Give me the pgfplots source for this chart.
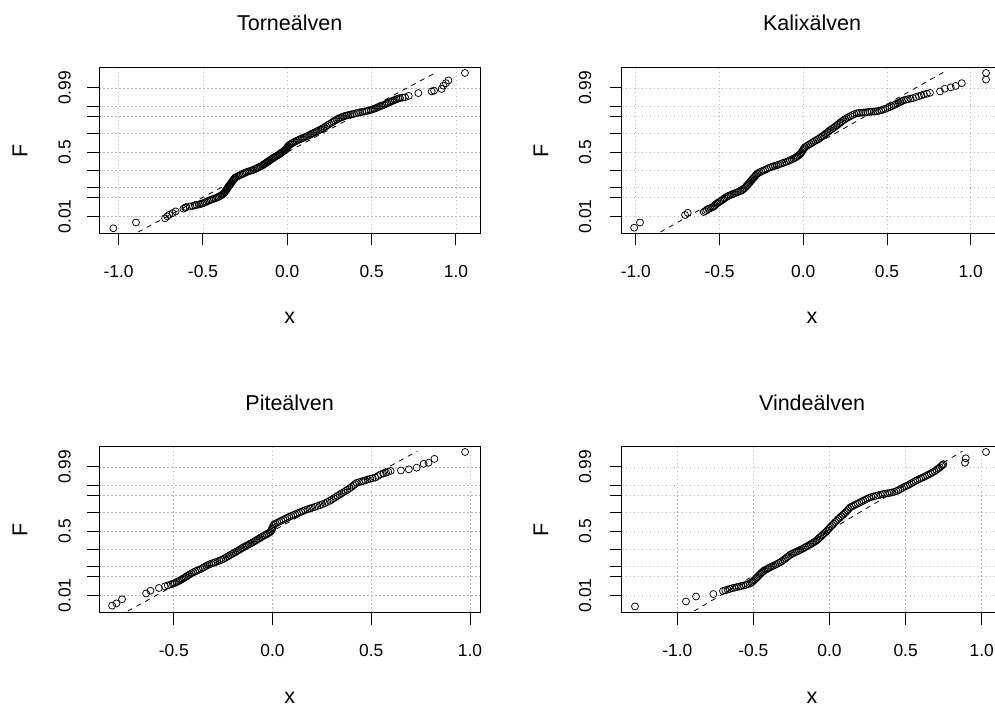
\documentclass[border=0pt]{standalone}
\usepackage{fontspec}
\setmainfont{Liberation Sans}
\usepackage{pgfplots}
\pgfplotsset{compat=1.18}

% normal probability paper: y is the standard normal quantile of F
\pgfplotsset{
  probplot/.style={
    scale only axis,
    width=380.7pt, height=165.5pt,
    anchor=south west,
    ymin=-2.95, ymax=3.05,
    ytick={-2.3263,-1.6449,-1.2816,-0.6745,0,0.6745,1.2816,1.6449,2.3263},
    xticklabels={}, yticklabels={},
    xtick pos=left, ytick pos=left,
    tick align=outside,
    major tick length=12pt,
    tick style={black, line width=1pt},
    axis line style={line width=1pt},
    grid=major,
    major grid style={gray!55, line width=0.75pt, dash pattern=on 1.5pt off 2.5pt},
    clip mode=individual,
  },
  qq/.style={only marks, mark=o, mark size=3.5pt,
    mark options={line width=0.75pt, black}, black},
  fitline/.style={black, line width=0.8pt, dash pattern=on 5pt off 5pt, no marks},
}
\tikzset{
  tl/.style={font=\fontsize{17.4}{20}\selectfont, anchor=base, inner sep=0pt},
  lab/.style={font=\fontsize{21.5}{24}\selectfont, anchor=base, inner sep=0pt},
}

\begin{document}
\begin{tikzpicture}

% ---------------- Torneälven ----------------
\begin{axis}[probplot, at={(99.3pt,473.5pt)},
  xmin=-1.1144, xmax=1.1423, xtick={-1,-0.5,0,0.5,1}]
\addplot[fitline] coordinates {(-0.885,-2.9) (0.885,2.9)};
\addplot[qq] table {
x y
-1.031 -2.76
-0.897 -2.55
-0.725 -2.40
-0.712 -2.33
-0.700 -2.27
-0.680 -2.21
-0.662 -2.15
-0.616 -2.05
-0.600 -1.99
-0.560 -1.95
-0.537 -1.91
-0.515 -1.88
-0.498 -1.85
-0.480 -1.80
-0.462 -1.75
-0.445 -1.71
-0.425 -1.67
-0.408 -1.62
-0.392 -1.57
-0.380 -1.52
-0.372 -1.46
-0.365 -1.40
-0.358 -1.34
-0.352 -1.28
-0.345 -1.22
-0.338 -1.16
-0.331 -1.10
-0.324 -1.04
-0.316 -0.98
-0.308 -0.92
-0.292 -0.87
-0.275 -0.82
-0.258 -0.77
-0.240 -0.72
-0.220 -0.68
-0.200 -0.64
-0.182 -0.59
-0.166 -0.54
-0.150 -0.49
-0.138 -0.44
-0.126 -0.39
-0.114 -0.34
-0.102 -0.29
-0.090 -0.24
-0.078 -0.19
-0.064 -0.14
-0.050 -0.09
-0.040 -0.04
-0.028 0.01
-0.016 0.06
-0.008 0.11
0.000 0.17
0.006 0.23
0.020 0.29
0.036 0.35
0.055 0.41
0.075 0.47
0.095 0.52
0.115 0.57
0.135 0.63
0.154 0.69
0.174 0.75
0.194 0.81
0.212 0.87
0.230 0.94
0.250 1.02
0.273 1.11
0.292 1.18
0.312 1.24
0.332 1.29
0.352 1.33
0.375 1.36
0.395 1.39
0.420 1.43
0.445 1.46
0.470 1.49
0.495 1.53
0.515 1.57
0.535 1.62
0.555 1.67
0.575 1.72
0.592 1.77
0.610 1.82
0.628 1.87
0.648 1.92
0.668 1.96
0.698 1.99
0.720 2.04
0.777 2.14
0.856 2.20
0.870 2.23
0.915 2.29
0.925 2.41
0.940 2.50
0.955 2.60
1.053 2.87
-0.605 -2.02
-0.578 -1.97
-0.548 -1.93
-0.524 -1.90
-0.505 -1.865
-0.489 -1.825
-0.471 -1.775
-0.453 -1.73
-0.435 -1.69
-0.416 -1.645
-0.400 -1.595
-0.386 -1.545
-0.376 -1.49
-0.368 -1.43
-0.361 -1.37
-0.355 -1.31
-0.348 -1.25
-0.341 -1.19
-0.334 -1.13
-0.327 -1.07
-0.320 -1.01
-0.312 -0.95
-0.300 -0.895
-0.283 -0.845
-0.266 -0.795
-0.249 -0.745
-0.230 -0.70
-0.210 -0.66
-0.191 -0.615
-0.174 -0.565
-0.158 -0.515
-0.144 -0.465
-0.132 -0.415
-0.120 -0.365
-0.108 -0.315
-0.096 -0.265
-0.084 -0.215
-0.071 -0.165
-0.057 -0.115
-0.045 -0.065
-0.034 -0.015
-0.022 0.035
-0.012 0.085
-0.004 0.14
0.003 0.20
0.013 0.26
0.028 0.32
0.045 0.38
0.065 0.44
0.085 0.495
0.105 0.545
0.125 0.60
0.144 0.66
0.164 0.72
0.184 0.78
0.203 0.84
0.221 0.905
0.240 0.98
0.262 1.065
0.282 1.145
0.302 1.21
0.322 1.265
0.342 1.31
0.363 1.345
0.385 1.375
0.408 1.41
0.432 1.445
0.458 1.475
0.482 1.51
0.505 1.55
0.525 1.595
0.545 1.645
0.565 1.695
0.584 1.745
0.601 1.795
0.619 1.845
0.638 1.895
0.658 1.94
0.683 1.975
};
\end{axis}

% ---------------- Kalixälven ----------------
\begin{axis}[probplot, at={(621.7pt,473.5pt)},
  xmin=-1.0842, xmax=1.1887, xtick={-1,-0.5,0,0.5,1}]
\addplot[fitline] coordinates {(-0.854,-2.9) (0.838,2.9)};
\addplot[qq] table {
x y
-1.010 -2.74
-0.975 -2.55
-0.706 -2.28
-0.690 -2.20
-0.595 -2.17
-0.575 -2.10
-0.555 -2.03
-0.537 -1.98
-0.525 -1.91
-0.512 -1.84
-0.495 -1.78
-0.478 -1.71
-0.462 -1.64
-0.445 -1.58
-0.425 -1.53
-0.405 -1.48
-0.385 -1.43
-0.365 -1.38
-0.350 -1.30
-0.338 -1.22
-0.326 -1.14
-0.315 -1.06
-0.304 -0.98
-0.292 -0.90
-0.282 -0.82
-0.270 -0.76
-0.250 -0.70
-0.228 -0.64
-0.205 -0.57
-0.182 -0.52
-0.160 -0.48
-0.138 -0.43
-0.115 -0.38
-0.092 -0.33
-0.070 -0.27
-0.050 -0.21
-0.035 -0.15
-0.020 -0.08
-0.010 0.00
0.000 0.10
0.010 0.18
0.030 0.26
0.050 0.33
0.070 0.41
0.090 0.48
0.110 0.56
0.128 0.64
0.145 0.72
0.162 0.80
0.180 0.88
0.198 0.96
0.215 1.04
0.232 1.12
0.250 1.20
0.270 1.27
0.292 1.34
0.319 1.41
0.345 1.43
0.370 1.44
0.395 1.46
0.420 1.47
0.440 1.48
0.465 1.52
0.490 1.57
0.515 1.63
0.540 1.70
0.560 1.76
0.580 1.82
0.600 1.88
0.625 1.92
0.655 1.96
0.690 2.03
0.720 2.09
0.756 2.15
0.816 2.20
0.845 2.30
0.880 2.35
0.910 2.40
0.946 2.50
1.091 2.63
1.091 2.87
-0.585 -2.135
-0.565 -2.065
-0.546 -2.005
-0.531 -1.945
-0.518 -1.875
-0.503 -1.81
-0.486 -1.745
-0.470 -1.675
-0.453 -1.61
-0.435 -1.555
-0.415 -1.505
-0.395 -1.455
-0.375 -1.405
-0.357 -1.34
-0.344 -1.26
-0.332 -1.18
-0.320 -1.10
-0.309 -1.02
-0.298 -0.94
-0.287 -0.86
-0.276 -0.79
-0.260 -0.73
-0.239 -0.67
-0.216 -0.605
-0.193 -0.545
-0.171 -0.50
-0.149 -0.455
-0.126 -0.405
-0.103 -0.355
-0.081 -0.30
-0.060 -0.24
-0.042 -0.18
-0.027 -0.115
-0.015 -0.04
-0.005 0.05
0.005 0.14
0.020 0.22
0.040 0.295
0.060 0.37
0.080 0.445
0.100 0.52
0.119 0.60
0.136 0.68
0.153 0.76
0.171 0.84
0.189 0.92
0.206 1.00
0.223 1.08
0.241 1.16
0.260 1.235
0.281 1.305
0.305 1.375
0.332 1.42
0.357 1.435
0.382 1.45
0.407 1.465
0.430 1.475
0.452 1.50
0.477 1.545
0.502 1.60
0.527 1.665
0.550 1.73
0.570 1.79
0.590 1.85
0.612 1.90
0.640 1.94
0.672 1.995
0.705 2.06
0.738 2.12
};
\end{axis}

% ---------------- Piteälven ----------------
\begin{axis}[probplot, at={(99.3pt,94.5pt)},
  xmin=-0.877, xmax=1.0506, xtick={-0.5,0,0.5,1}]
\addplot[fitline] coordinates {(-0.733,-2.9) (0.733,2.9)};
\addplot[qq] table {
x y
-0.812 -2.70
-0.790 -2.62
-0.762 -2.47
-0.640 -2.26
-0.618 -2.16
-0.575 -2.06
-0.545 -2.00
-0.515 -1.93
-0.495 -1.88
-0.478 -1.82
-0.462 -1.76
-0.448 -1.70
-0.433 -1.63
-0.418 -1.56
-0.400 -1.49
-0.382 -1.43
-0.362 -1.37
-0.345 -1.30
-0.328 -1.23
-0.310 -1.18
-0.290 -1.13
-0.268 -1.07
-0.249 -1.01
-0.232 -0.94
-0.215 -0.87
-0.198 -0.80
-0.180 -0.73
-0.164 -0.66
-0.148 -0.59
-0.130 -0.52
-0.114 -0.46
-0.098 -0.40
-0.082 -0.33
-0.066 -0.26
-0.050 -0.19
-0.032 -0.12
-0.015 -0.05
-0.004 0.04
0.000 0.14
0.008 0.24
0.025 0.31
0.045 0.38
0.065 0.45
0.085 0.52
0.105 0.58
0.125 0.64
0.145 0.70
0.165 0.76
0.190 0.82
0.215 0.88
0.240 0.94
0.265 1.01
0.290 1.10
0.310 1.19
0.330 1.28
0.350 1.37
0.370 1.46
0.390 1.55
0.410 1.66
0.426 1.75
0.450 1.80
0.470 1.84
0.495 1.90
0.520 1.94
0.548 2.06
0.575 2.12
0.598 2.18
0.650 2.20
0.690 2.24
0.730 2.30
0.765 2.44
0.790 2.48
0.820 2.62
0.975 2.87
-0.530 -1.965
-0.505 -1.905
-0.486 -1.85
-0.470 -1.79
-0.455 -1.73
-0.440 -1.665
-0.425 -1.595
-0.409 -1.525
-0.391 -1.46
-0.372 -1.40
-0.353 -1.335
-0.336 -1.265
-0.319 -1.205
-0.300 -1.155
-0.279 -1.10
-0.258 -1.04
-0.240 -0.975
-0.223 -0.905
-0.206 -0.835
-0.189 -0.765
-0.172 -0.695
-0.156 -0.625
-0.139 -0.555
-0.122 -0.49
-0.106 -0.43
-0.090 -0.365
-0.074 -0.295
-0.058 -0.225
-0.041 -0.155
-0.023 -0.085
-0.009 -0.005
-0.002 0.09
0.004 0.19
0.016 0.275
0.035 0.345
0.055 0.415
0.075 0.485
0.095 0.55
0.115 0.61
0.135 0.67
0.155 0.73
0.177 0.79
0.202 0.85
0.227 0.91
0.252 0.975
0.277 1.055
0.300 1.145
0.320 1.235
0.340 1.325
0.360 1.415
0.380 1.505
0.400 1.605
0.418 1.705
0.438 1.775
0.460 1.82
0.482 1.87
0.507 1.92
0.534 2.00
0.561 2.09
0.586 2.15
};
\end{axis}

% ---------------- Vindeälven ----------------
\begin{axis}[probplot, at={(621.7pt,94.5pt)},
  xmin=-1.3653, xmax=1.136, xtick={-1,-0.5,0,0.5,1}]
\addplot[fitline] coordinates {(-0.890,-2.9) (0.874,2.9)};
\addplot[qq] table {
x y
-1.278 -2.73
-0.943 -2.55
-0.877 -2.37
-0.763 -2.28
-0.700 -2.17
-0.670 -2.12
-0.640 -2.07
-0.610 -2.03
-0.580 -1.99
-0.550 -1.95
-0.522 -1.90
-0.505 -1.83
-0.490 -1.75
-0.475 -1.67
-0.460 -1.58
-0.445 -1.50
-0.430 -1.43
-0.410 -1.37
-0.390 -1.31
-0.368 -1.25
-0.345 -1.19
-0.322 -1.12
-0.300 -1.04
-0.280 -0.95
-0.260 -0.86
-0.238 -0.80
-0.215 -0.74
-0.192 -0.68
-0.170 -0.62
-0.148 -0.55
-0.126 -0.48
-0.105 -0.41
-0.085 -0.34
-0.068 -0.25
-0.050 -0.16
-0.032 -0.07
-0.015 0.02
0.000 0.12
0.018 0.22
0.038 0.33
0.058 0.44
0.078 0.54
0.098 0.64
0.118 0.75
0.135 0.86
0.160 0.93
0.185 1.00
0.210 1.07
0.235 1.14
0.260 1.21
0.290 1.26
0.320 1.30
0.350 1.34
0.380 1.37
0.410 1.40
0.440 1.45
0.465 1.52
0.490 1.60
0.515 1.66
0.540 1.74
0.565 1.82
0.590 1.89
0.615 1.95
0.640 2.02
0.665 2.09
0.690 2.17
0.715 2.27
0.735 2.36
0.748 2.43
0.890 2.48
0.895 2.64
1.028 2.87
-0.685 -2.145
-0.655 -2.095
-0.625 -2.05
-0.595 -2.01
-0.565 -1.97
-0.536 -1.925
-0.513 -1.865
-0.497 -1.79
-0.482 -1.71
-0.467 -1.625
-0.452 -1.54
-0.437 -1.465
-0.420 -1.40
-0.400 -1.34
-0.379 -1.28
-0.356 -1.22
-0.333 -1.155
-0.311 -1.08
-0.290 -0.995
-0.270 -0.905
-0.249 -0.83
-0.226 -0.77
-0.203 -0.71
-0.181 -0.65
-0.159 -0.585
-0.137 -0.515
-0.115 -0.445
-0.095 -0.375
-0.076 -0.295
-0.059 -0.205
-0.041 -0.115
-0.023 -0.025
-0.007 0.07
0.009 0.17
0.028 0.275
0.048 0.385
0.068 0.49
0.088 0.59
0.108 0.695
0.126 0.805
0.147 0.895
0.172 0.965
0.197 1.035
0.222 1.105
0.247 1.175
0.275 1.235
0.305 1.28
0.335 1.32
0.365 1.355
0.395 1.385
0.425 1.425
0.452 1.485
0.477 1.56
0.502 1.63
0.527 1.70
0.552 1.78
0.577 1.855
0.602 1.92
0.627 1.985
0.652 2.055
0.677 2.13
0.702 2.22
0.725 2.315
0.742 2.395
};
\end{axis}

% ---------------- titles and axis text ----------------
\node[lab] at (289.65pt,676pt) {Torneälven};
\node[lab] at (812.05pt,676pt) {Kalixälven};
\node[lab] at (289.65pt,296pt) {Piteälven};
\node[lab] at (812.05pt,296pt) {Vindeälven};

\node[lab] at (289.65pt,383pt) {x};
\node[lab] at (812.05pt,383pt) {x};
\node[lab] at (289.65pt,3.5pt) {x};
\node[lab] at (812.05pt,3.5pt) {x};

\node[lab, rotate=90] at (27.3pt,556.25pt) {F};
\node[lab, rotate=90] at (548.3pt,556.25pt) {F};
\node[lab, rotate=90] at (27.3pt,177.25pt) {F};
\node[lab, rotate=90] at (548.3pt,177.25pt) {F};

% x tick labels
\foreach \p/\t in {118.6/-1.0, 202.95/-0.5, 287.3/0.0, 371.65/0.5, 456.0/1.0}
  \node[tl] at (\p pt,429.7pt) {\t};
\foreach \p/\t in {635.8/-1.0, 719.55/-0.5, 803.3/0.0, 887.05/0.5, 970.8/1.0}
  \node[tl] at (\p pt,429.7pt) {\t};
\foreach \p/\t in {173.75/-0.5, 272.5/0.0, 371.25/0.5, 470.0/1.0}
  \node[tl] at (\p pt,50.7pt) {\t};
\foreach \p/\t in {677.3/-1.0, 753.4/-0.5, 829.5/0.0, 905.6/0.5, 981.7/1.0}
  \node[tl] at (\p pt,50.7pt) {\t};

% y tick labels (probabilities)
\foreach \xx in {70.5, 591}{
  \node[tl, rotate=90] at (\xx pt,490.7pt) {0.01};
  \node[tl, rotate=90] at (\xx pt,554.87pt) {0.5};
  \node[tl, rotate=90] at (\xx pt,619.04pt) {0.99};
  \node[tl, rotate=90] at (\xx pt,111.7pt) {0.01};
  \node[tl, rotate=90] at (\xx pt,175.87pt) {0.5};
  \node[tl, rotate=90] at (\xx pt,240.04pt) {0.99};
}

\pgfresetboundingbox
\useasboundingbox (0,0) rectangle (995pt,707pt);
\end{tikzpicture}
\end{document}
